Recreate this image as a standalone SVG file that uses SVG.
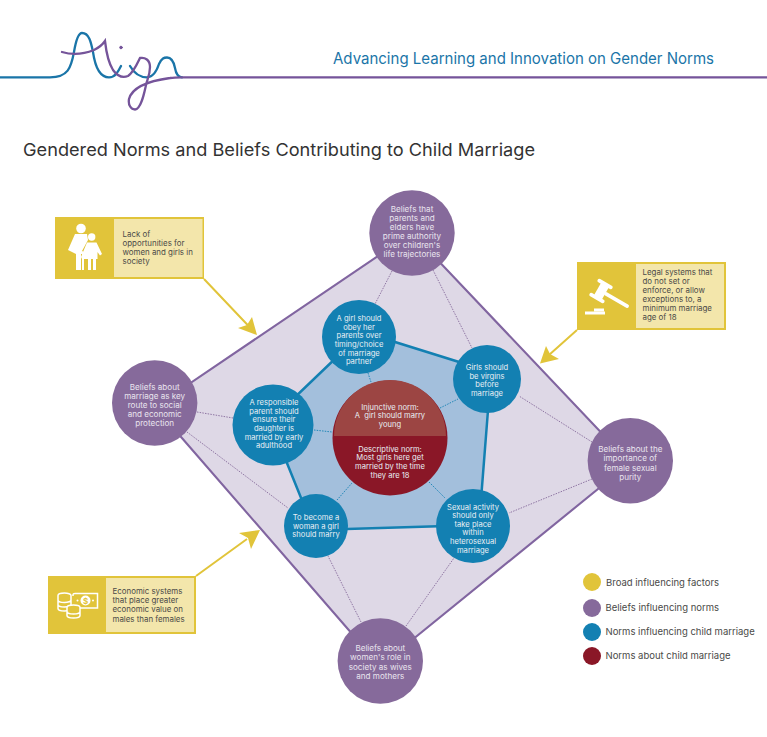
<svg xmlns="http://www.w3.org/2000/svg" width="767" height="737" viewBox="0 0 767 737">
<style>
text{font-family:"Inter","Liberation Sans",sans-serif}
.n{font-size:7.6px;fill:#e9eff4;text-anchor:middle}
.m{font-size:8.1px;fill:#e9e4ee;text-anchor:middle}
.b{font-size:7.9px;fill:#4a4a48}
.l{font-size:9.5px;fill:#4a4a48}
.pd{fill:none;stroke:#866a9b;stroke-width:.9;stroke-dasharray:1.5 1.2}
.bd{fill:none;stroke:#1380b2;stroke-width:.9;stroke-dasharray:1.5 1.2}
.p{fill:#866a9b}.u{fill:#1380b2}
.y{fill:#e1c43a}.lt{fill:#f3e6ab}
.ar{fill:none;stroke:#e1c43a;stroke-width:2}
.ic{fill:#fff}
</style>
<g id="logo" fill="none" stroke-width="2.3" stroke-linecap="round">
<path stroke="#1a75a8" d="M0 77.300H50C68 77.300 71 68 74 52C76 40 79 33 82 33C89 33 91 42 93 52C95 66 99 77.300 109 77.300C115 77.300 118 72 121 66M130 66C134 73 140 77.300 147 77.300C154 77.300 157 70 159 64C162 58 164 57.500 167 57.500C172 57.500 174 63 175 68C176 74 178 77 182 77.300"/>
<path stroke="#75549a" d="M62 52C72 55 84 54 94 50C100 47 103 44 105 41C106 50 108 62 113 70C118 77 123 78 128 76C134 72 138 62 140 58C145 57 150 60 150 67C150 75 147 80 146 85C144 94 141 109 135 109.500C131 109.500 128 105 129 99C132 88 148 81 170 78C174 77.300 178 77.300 182 77.300H767"/>
<circle cx="121" cy="47.500" r="1.300" fill="#75549a" stroke="#75549a" stroke-width="1"/>
</g>
<text id="header" x="333" y="63.500" font-size="15.500" fill="#1a75a8" textLength="381" lengthAdjust="spacingAndGlyphs">Advancing Learning and Innovation on Gender Norms</text>
<text id="title" x="23" y="155.500" font-size="17.500" fill="#333" textLength="512" lengthAdjust="spacingAndGlyphs">Gendered Norms and Beliefs Contributing to Child Marriage</text>

<polygon id="diamond" points="412,233 630,463 380,666 155,407" fill="#ded8e6" stroke="#8165a0" stroke-width="2.100" stroke-linejoin="round"/>
<polygon id="pentagon" points="363,332 491,372 479,525 314,530 270,421" fill="#a3bfdc" stroke="#1380b2" stroke-width="2.500"/>

<g id="connectors">
<path class="pd" d="M392 271L375 304M433 270L472 348M592 442L519 396M592 479L509 513M406 626L454 558M361 622L328 556M187 432L288 508M197 412L233 418"/>
<path class="bd" d="M368 373L371 382M440 408L458 399M429 482L445 498M337 500L352 483M314 430L332 432"/>
<path class="ar" d="M204 279L250 327.500M577 330L549 355M196 576L247 539"/>
<path class="y" d="M257 335L238 328L247 325L252 317ZM540 363.500L546 346L550 354L559 359ZM260 530L239 533L248 538L251 549Z"/>
</g>

<g id="box-opportunities">
<rect class="y" x="55" y="217" width="149" height="62"/>
<rect class="lt" x="114" y="219" width="88.500" height="58"/>
<circle class="ic" cx="81" cy="228.500" r="4.800"/>
<path class="ic" d="M75 234H87L88 240L82 251L84 252V270H82V254H81V270H76V254L68 250Z"/>
<circle class="ic" cx="91.700" cy="237" r="3.700"/>
<path class="ic" d="M87 242.500H96.500L102 254L100 255.500L97.500 252V259H96V270H93V259H91V270H88V259H82L81 257Z"/>
<text class="b"><tspan x="122.500" y="236.500">Lack of</tspan><tspan x="122.500" y="245.500">opportunities for</tspan><tspan x="122.500" y="254.700">women and girls in</tspan><tspan x="122.500" y="263.700">society</tspan></text>
</g>

<g id="box-legal">
<rect class="y" x="577" y="262" width="149" height="68"/>
<rect class="lt" x="636" y="264" width="88" height="64"/>
<g transform="translate(601 291) rotate(30)">
<rect class="ic" x="-4" y="-8" width="9" height="16"/>
<rect class="ic" x="-8.500" y="-10" width="17" height="3.800" rx="1.800"/>
<rect class="ic" x="-8.500" y="6.200" width="17" height="3.800" rx="1.800"/>
<rect class="ic" x="4" y="-1.800" width="28" height="3.600" rx="1.800"/>
</g>
<rect class="ic" x="594" y="308.500" width="10" height="3"/>
<rect class="ic" x="585" y="311.500" width="20" height="3"/>
<text class="b"><tspan x="642.500" y="274.800">Legal systems that</tspan><tspan x="642.500" y="283.800">do not set or</tspan><tspan x="642.500" y="293">enforce, or allow</tspan><tspan x="642.500" y="302">exceptions to, a</tspan><tspan x="642.500" y="311">minimum marriage</tspan><tspan x="642.500" y="320">age of 18</tspan></text>
</g>

<g id="box-economic">
<rect class="y" x="48" y="576" width="148" height="58"/>
<rect class="lt" x="106" y="578" width="88" height="54"/>
<g fill="none" stroke="#fff" stroke-width="1.500">
<path d="M73 596V594.500Q73 593.500 75 593.500H97.500V608H76"/>
<path d="M58 595.500a6.500 2.500 0 0 1 13 0v13a6.500 2.500 0 0 1-13 0zM58 600a6.500 2.500 0 0 0 13 0M58 604.500a6.500 2.500 0 0 0 13 0"/>
<path d="M67 607.500a6.500 2.500 0 0 1 13 0v8a6.500 2.500 0 0 1-13 0zM67 611.500a6.500 2.500 0 0 0 13 0" fill="#e1c43a"/>
</g>
<circle class="ic" cx="85.500" cy="600.500" r="5"/>
<text x="85.500" y="603.500" font-size="8" fill="#e1c43a" text-anchor="middle" font-weight="700">$</text>
<circle class="ic" cx="77.500" cy="600.500" r="1"/><circle class="ic" cx="93" cy="600.500" r="1"/>
<text class="b"><tspan x="112.500" y="594.300">Economic systems</tspan><tspan x="112.500" y="603.300">that place greater</tspan><tspan x="112.500" y="612.300">economic value on</tspan><tspan x="112.500" y="621.500">males than females</tspan></text>
</g>

<g id="belief-authority"><circle class="p" cx="412" cy="233" r="42.700"/>
<text class="m"><tspan x="412" y="211.800">Beliefs that</tspan><tspan x="412" y="221">parents and</tspan><tspan x="412" y="230">elders have</tspan><tspan x="412" y="239">prime authority</tspan><tspan x="412" y="248">over children's</tspan><tspan x="412" y="257">life trajectories</tspan></text></g>
<g id="belief-protection"><circle class="p" cx="154.700" cy="403" r="42.700"/>
<text class="m"><tspan x="154.700" y="389.500">Beliefs about</tspan><tspan x="154.700" y="398.800">marriage as key</tspan><tspan x="154.700" y="407.800">route to social</tspan><tspan x="154.700" y="417">and economic</tspan><tspan x="154.700" y="426">protection</tspan></text></g>
<g id="belief-purity"><circle class="p" cx="630.300" cy="460.700" r="42.700"/>
<text class="m"><tspan x="630.300" y="451.500">Beliefs about the</tspan><tspan x="630.300" y="461">importance of</tspan><tspan x="630.300" y="470.500">female sexual</tspan><tspan x="630.300" y="480">purity</tspan></text></g>
<g id="belief-role"><circle class="p" cx="380.300" cy="661" r="42.700"/>
<text class="m"><tspan x="380.300" y="650.800">Beliefs about</tspan><tspan x="380.300" y="660">women's role in</tspan><tspan x="380.300" y="669.500">society as wives</tspan><tspan x="380.300" y="678.500">and mothers</tspan></text></g>

<g id="norm-obey"><circle class="u" cx="359" cy="337" r="37"/>
<text class="n"><tspan x="359" y="321">A girl should</tspan><tspan x="359" y="329.500">obey her</tspan><tspan x="359" y="338">parents over</tspan><tspan x="359" y="347">timing/choice</tspan><tspan x="359" y="355.500">of marriage</tspan><tspan x="359" y="364">partner</tspan></text></g>
<g id="norm-virgins"><circle class="u" cx="487" cy="379" r="34"/>
<text class="n"><tspan x="487" y="370">Girls should</tspan><tspan x="487" y="379">be virgins</tspan><tspan x="487" y="387">before</tspan><tspan x="487" y="396">marriage</tspan></text></g>
<g id="norm-parent"><circle class="u" cx="273" cy="425" r="40.500"/>
<text class="n"><tspan x="274" y="405">A responsible</tspan><tspan x="274" y="413.500">parent should</tspan><tspan x="274" y="422">ensure their</tspan><tspan x="274" y="431">daughter is</tspan><tspan x="274" y="439.500">married by early</tspan><tspan x="274" y="448">adulthood</tspan></text></g>
<g id="norm-woman"><circle class="u" cx="316" cy="526" r="32"/>
<text class="n"><tspan x="316" y="519.500">To become a</tspan><tspan x="316" y="528.500">woman a girl</tspan><tspan x="316" y="537">should marry</tspan></text></g>
<g id="norm-sexual"><circle class="u" cx="473" cy="526" r="37"/>
<text class="n"><tspan x="473" y="509.500">Sexual activity</tspan><tspan x="473" y="517.800">should only</tspan><tspan x="473" y="526.500">take place</tspan><tspan x="473" y="535.300">within</tspan><tspan x="473" y="544">heterosexual</tspan><tspan x="473" y="552.500">marriage</tspan></text></g>

<g id="norm-core">
<circle cx="390" cy="438" r="57.500" fill="#8a1727"/>
<path d="M334 436A56 56 0 0 1 446 436Z" fill="#9c4543"/>
<text class="n"><tspan x="390" y="409.500">Injunctive norm:</tspan><tspan x="390" y="417.800" xml:space="preserve">A  girl should marry</tspan><tspan x="390" y="426.500">young</tspan></text>
<text class="n"><tspan x="390" y="451.500">Descriptive norm:</tspan><tspan x="390" y="460">Most girls here get</tspan><tspan x="390" y="469">married by the time</tspan><tspan x="390" y="477.500">they are 18</tspan></text>
</g>

<g id="legend">
<circle class="y" cx="592" cy="582" r="9"/><text class="l" x="606" y="585.500">Broad influencing factors</text>
<circle class="p" cx="592" cy="608" r="9"/><text class="l" x="605.500" y="611">Beliefs influencing norms</text>
<circle class="u" cx="592" cy="632" r="9"/><text class="l" x="605.500" y="635">Norms influencing child marriage</text>
<circle cx="592" cy="656" r="9" fill="#8a1727"/><text class="l" x="605.500" y="659">Norms about child marriage</text>
</g>
</svg>
